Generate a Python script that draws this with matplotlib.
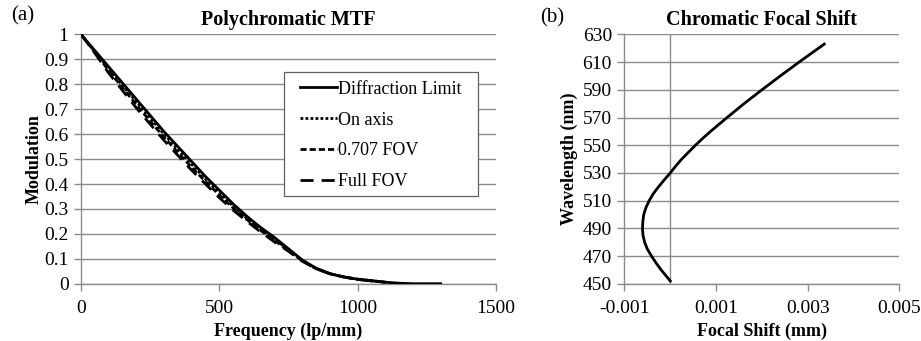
import numpy as np
import matplotlib
matplotlib.use("Agg")
import matplotlib.pyplot as plt
from matplotlib.patches import Rectangle

plt.rcParams['font.family'] = ['Liberation Serif', 'DejaVu Serif']

## MTF data
freq = [0, 50, 100, 150, 200, 250, 300, 350, 400, 450, 500, 550, 600, 650,
        700, 750, 800, 850, 900, 950, 1000, 1050, 1100, 1150, 1200, 1250, 1300]
mtf_diff = [1.0, 0.935, 0.87, 0.805, 0.74, 0.675, 0.61, 0.55, 0.49, 0.43, 0.375,
            0.32, 0.27, 0.225, 0.185, 0.14, 0.095, 0.062, 0.04, 0.027, 0.018,
            0.012, 0.006, 0.002, 0.0, 0.0, 0.0]

freq_fov = [0, 50, 100, 150, 200, 250, 300, 350, 400, 450, 500, 550, 600, 650,
            700, 750, 800, 850, 900, 950, 1000, 1050, 1100]
mtf_axis = [1.0, 0.93, 0.862, 0.795, 0.73, 0.665, 0.6, 0.539, 0.479, 0.42, 0.365,
            0.311, 0.262, 0.218, 0.179, 0.136, 0.093, 0.061, 0.04, 0.027, 0.018,
            0.012, 0.006]
mtf_707 = [1.0, 0.928, 0.855, 0.786, 0.718, 0.652, 0.588, 0.527, 0.467, 0.41, 0.356,
           0.304, 0.257, 0.213, 0.173, 0.133, 0.092, 0.06, 0.04, 0.027, 0.018,
           0.012, 0.006]
mtf_full = [1.0, 0.925, 0.845, 0.775, 0.705, 0.64, 0.575, 0.515, 0.455, 0.4, 0.345,
            0.295, 0.25, 0.207, 0.167, 0.13, 0.09, 0.06, 0.04, 0.027, 0.017,
            0.011, 0.006]

## chromatic focal shift data
wavelength = [452, 456, 460, 465, 470, 475, 480, 485, 490, 495, 500, 505, 510,
              515, 520, 525, 530, 535, 540, 545, 550, 555, 560, 570, 580, 590,
              600, 610, 623]
focal_shift = [0.0, -0.0001, -0.0002, -0.00031, -0.00041, -0.0005, -0.00056,
               -0.000595, -0.000606, -0.000598, -0.000578, -0.00053, -0.00046,
               -0.00037, -0.000255, -0.00013, 0.0, 0.00012, 0.00025, 0.0004,
               0.00055, 0.00071, 0.00088, 0.00124, 0.00161, 0.002, 0.0024,
               0.00281, 0.00336]

grid_c = '#8c8c8c'

fig = plt.figure(figsize=(9.21, 3.41), dpi=100)

## (a) polychromatic MTF
ax = fig.add_axes([0.088, 0.168, 0.4505, 0.731])
ax.plot(freq, mtf_diff, color='black', lw=2.0, label='Diffraction Limit', zorder=5)
ax.plot(freq_fov, mtf_axis, color='black', lw=2.0, ls=(0, (1, 0.8)), label='On axis', zorder=4)
ax.plot(freq_fov, mtf_707, color='black', lw=2.0, ls=(0, (2.2, 1.1)), label='0.707 FOV', zorder=3)
ax.plot(freq_fov, mtf_full, color='black', lw=2.0, ls=(0, (4.7, 2.9)), label='Full FOV', zorder=2)
ax.set_xlim(0, 1500)
ax.set_ylim(0, 1)
ax.set_xticks([0, 500, 1000, 1500])
ax.set_yticks(np.arange(0, 1.01, 0.1))
ax.set_yticklabels(['0', '0.1', '0.2', '0.3', '0.4', '0.5', '0.6', '0.7', '0.8', '0.9', '1'])
ax.set_title('Polychromatic MTF', fontsize=14.5, fontweight='bold', pad=7)
ax.set_xlabel('Frequency (lp/mm)', fontsize=13, fontweight='bold', labelpad=4)
ax.set_ylabel('Modulation', fontsize=13, fontweight='bold', labelpad=1)

# legend frame drawn separately (wider side padding than the legend box allows)
ax.add_patch(Rectangle((0.489, 0.352), 0.468, 0.497, transform=ax.transAxes,
                       facecolor='white', edgecolor='#606060', lw=0.9, zorder=6))
leg = ax.legend(loc='upper left', bbox_to_anchor=(0.528, 0.814), fontsize=13,
                frameon=False, handlelength=2.05, handletextpad=0.05,
                labelspacing=0.76, borderpad=0, borderaxespad=0)
leg.set_zorder(7)
fig.text(0.012, 0.94, '(a)', fontsize=15)

## (b) chromatic focal shift
bx = fig.add_axes([0.678, 0.168, 0.2985, 0.731])
bx.plot(focal_shift, wavelength, color='black', lw=2.0, zorder=5)
bx.axvline(0, color=grid_c, lw=1.0, zorder=1)
bx.set_xlim(-0.001, 0.005)
bx.set_ylim(450, 630)
bx.set_xticks([-0.001, 0.001, 0.003, 0.005])
bx.set_xticklabels(['-0.001', '0.001', '0.003', '0.005'])
bx.set_yticks(np.arange(450, 631, 20))
bx.set_title('Chromatic Focal Shift', fontsize=14.5, fontweight='bold', pad=7)
bx.set_xlabel('Focal Shift (mm)', fontsize=13, fontweight='bold', labelpad=4)
bx.set_ylabel('Wavelength (nm)', fontsize=13, fontweight='bold', labelpad=3)
fig.text(0.586, 0.935, '(b)', fontsize=15)

for a in (ax, bx):
    a.grid(axis='y', color=grid_c, lw=1.0)
    a.set_axisbelow(True)
    for s in ('top', 'right'):
        a.spines[s].set_visible(False)
    for s in ('left', 'bottom'):
        a.spines[s].set_color(grid_c)
        a.spines[s].set_linewidth(1.0)
    a.tick_params(axis='both', colors=grid_c, length=5, width=1.0, labelsize=14,
                  labelcolor='black', pad=4)
    a.tick_params(axis='x', pad=7)

fig.savefig('out.png', dpi=100)
